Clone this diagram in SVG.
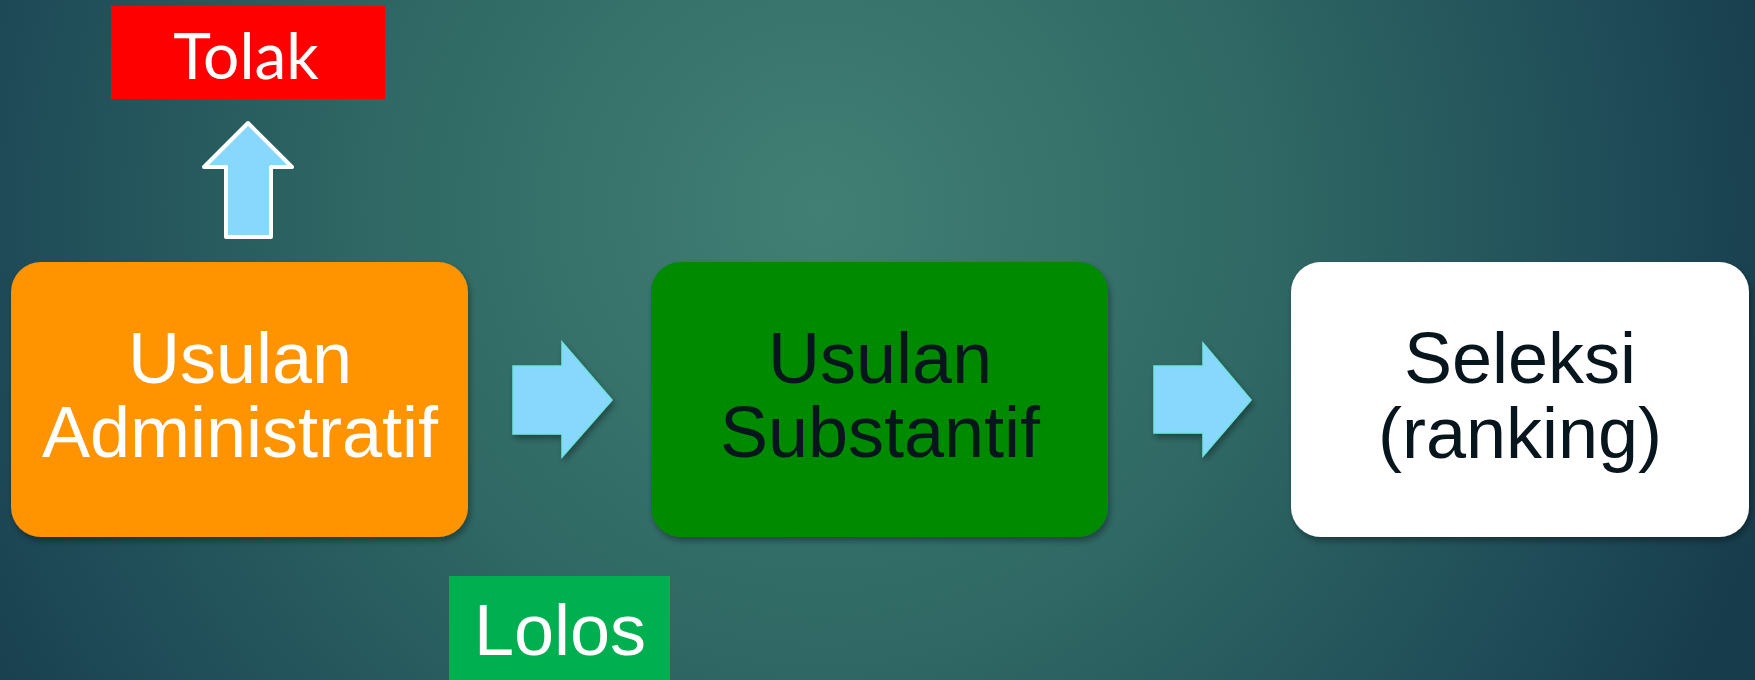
<svg xmlns="http://www.w3.org/2000/svg" width="1755" height="680" viewBox="0 0 1755 680">
<defs>
<radialGradient id="bg" gradientUnits="userSpaceOnUse" cx="820" cy="210" r="1000">
<stop offset="0" stop-color="#417f74"/>
<stop offset="0.45" stop-color="#2f6864"/>
<stop offset="0.8" stop-color="#1f4c58"/>
<stop offset="1" stop-color="#173c4c"/>
</radialGradient>
<filter id="sh" x="-10%" y="-10%" width="120%" height="125%">
<feDropShadow dx="2" dy="4" stdDeviation="3" flood-color="#000" flood-opacity="0.35"/>
</filter>
</defs>
<style>
.big{font-family:"Liberation Sans",Arial,sans-serif;font-size:72px;text-anchor:middle}
.lbl{font-family:Lato,"Open Sans",sans-serif;text-anchor:middle;fill:#fff}
.arr{fill:#87d8fc;stroke:#6fe3e0;stroke-width:1.5;filter:url(#sh)}
</style>
<rect width="1755" height="680" fill="url(#bg)"/>
<g id="tolak">
<rect x="111" y="6" width="274" height="93" fill="#ff0000"/>
<text class="lbl" x="246" y="79" font-size="64">Tolak</text>
</g>
<g id="lolos">
<rect x="449" y="576" width="221" height="110" fill="#00b050"/>
<text class="big" x="560" y="655" fill="#fff" font-size="70">Lolos</text>
</g>
<g id="administratif">
<rect x="11" y="262" width="457" height="275" rx="30" fill="#ff9300" filter="url(#sh)"/>
<text class="big" x="240" y="383" fill="#fff">Usulan</text>
<text class="big" x="240" y="457" fill="#fff">Administratif</text>
</g>
<g id="substantif">
<rect x="651" y="262" width="457" height="275" rx="30" fill="#008a00" filter="url(#sh)"/>
<text class="big" x="880" y="383" fill="#07161c">Usulan</text>
<text class="big" x="880" y="457" fill="#07161c">Substantif</text>
</g>
<g id="seleksi">
<rect x="1291" y="262" width="458" height="275" rx="30" fill="#ffffff" filter="url(#sh)"/>
<text class="big" x="1520" y="383" fill="#07161c">Seleksi</text>
<text class="big" x="1520" y="458" fill="#07161c">(ranking)</text>
</g>
<g id="connectors">
<path d="M226,237 L226,167 L204,167 L248,123 L292,167 L271,167 L271,237 Z" fill="#87d8fc" stroke="#fff" stroke-width="4" stroke-linejoin="round"/>
<path class="arr" d="M513,366 L562,366 L562,342 L612,400 L562,457 L562,434 L513,434 Z"/>
<path class="arr" d="M1154,366 L1203,366 L1203,343 L1251,400 L1203,456 L1203,433 L1154,433 Z"/>
</g>
</svg>
